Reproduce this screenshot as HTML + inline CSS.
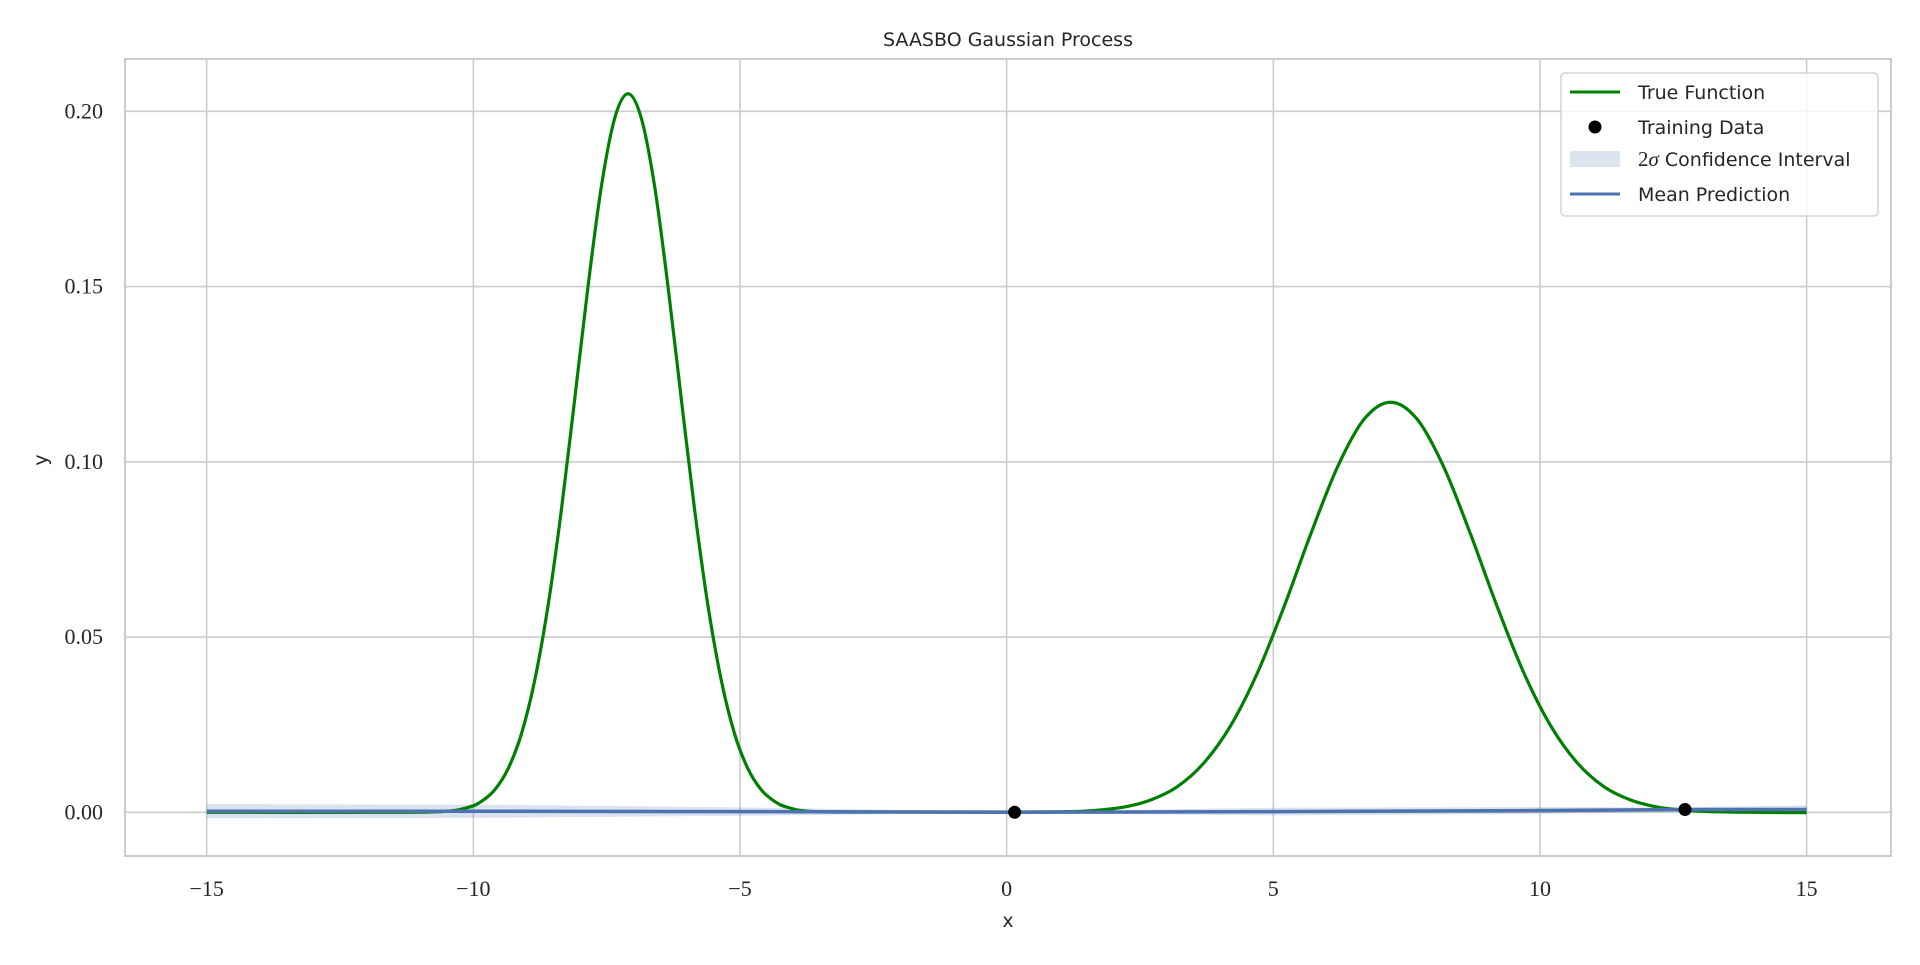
<!DOCTYPE html>
<html><head><meta charset="utf-8"><style>
body{margin:0;background:#fff;}
svg text{fill:#262626;}
.sans{font-family:"DejaVu Sans","Liberation Sans",sans-serif;}
.serif{font-family:"Liberation Serif",serif;}
</style></head><body>
<svg id="chart" width="1920" height="960" xmlns="http://www.w3.org/2000/svg">
<rect width="1920" height="960" fill="#fff"/>
<g id="grid"></g>
<g id="band"></g>
<g id="lines"></g>
<g id="frame"></g>
<g id="ticks"></g>
<text class="sans" x="1008" y="46" font-size="19" text-anchor="middle">SAASBO Gaussian Process</text>
<text class="sans" x="1008" y="927" font-size="19" text-anchor="middle">x</text>
<text class="sans" x="47" y="460" font-size="19" text-anchor="middle" transform="rotate(-90 47 460)">y</text>
<g>
<rect x="1561" y="73" width="317" height="143" rx="4" fill="#fff" fill-opacity="0.8" stroke="#ccc" stroke-width="1.3"/>
<line x1="1570" y1="92" x2="1620" y2="92" stroke="#008000" stroke-width="3"/>
<text class="sans" x="1638" y="99" font-size="19">True Function</text>
<circle cx="1595" cy="127" r="6.5" fill="#000"/>
<text class="sans" x="1638" y="134" font-size="19">Training Data</text>
<rect x="1570" y="151" width="50" height="16" fill="#dbe3ef"/>
<text class="sans" x="1638" y="166" font-size="19"><tspan class="serif" font-size="21">2<tspan font-style="italic">σ</tspan></tspan> Confidence Interval</text>
<line x1="1570" y1="194" x2="1620" y2="194" stroke="#4c72b0" stroke-width="3"/>
<text class="sans" x="1638" y="201" font-size="19">Mean Prediction</text>
</g>
</svg>
<script>
const xTicks=[-15,-10,-5,0,5,10,15];
const xTickLabels=["\u221215","\u221210","\u22125","0","5","10","15"];
const yTicks=[0,0.05,0.10,0.15,0.20];
const yTickLabels=["0.00","0.05","0.10","0.15","0.20"];
const trueX=[-15,-12,-10.6,-10.1,-9.85,-9.6,-9.35,-9.1,-8.85,-8.6,-8.35,-8.1,-7.85,-7.6,-7.35,-7.1,-6.85,-6.6,-6.35,-6.1,-5.85,-5.6,-5.35,-5.1,-4.85,-4.6,-4.35,-4.1,-3.6,-2,0,1.2,1.7,2.2,2.7,3.2,3.7,4.2,4.7,5.2,5.7,6.2,6.7,7.2,7.7,8.2,8.7,9.2,9.7,10.2,10.7,11.2,11.7,12.2,12.7,13.2,14,15];
const trueY=[0,0,0.0002,0.0014,0.0031,0.0064,0.0124,0.0223,0.0376,0.0589,0.0862,0.1178,0.150,0.1785,0.198,0.205,0.198,0.1785,0.150,0.1178,0.0862,0.0589,0.0376,0.0223,0.0124,0.0064,0.0031,0.0014,0.0002,0.0001,0.0001,0.0002,0.0006,0.0015,0.0035,0.0073,0.0141,0.0247,0.0397,0.0586,0.0793,0.0984,0.1121,0.117,0.1121,0.0984,0.0793,0.0586,0.0397,0.0247,0.0141,0.0073,0.0035,0.0015,0.0006,0.0002,0,-0.0001];
const predX=[-15,-10,-5,0,5,10,12.7,15];
const meanY=[0.0003,0.0003,0.0002,0.0000,0.0002,0.0005,0.0008,0.0008];
const lowerY=[-0.0017,-0.0016,-0.0010,-0.0002,-0.0009,-0.0005,0.0002,-0.0004];
const upperY=[0.0023,0.0022,0.0014,0.0002,0.0013,0.0015,0.0014,0.0020];
const trainX=[0.15,12.72];
const trainY=[0.0,0.0008];

const X0=206.7,PXU=53.33,Y0=812.3,PYU=3505;
const sx=v=>X0+(v+15)*PXU;
const sy=v=>Y0-v*PYU;
const NS="http://www.w3.org/2000/svg";
function mk(tag,attrs,parent){const e=document.createElementNS(NS,tag);for(const k in attrs)e.setAttribute(k,attrs[k]);document.getElementById(parent).appendChild(e);return e;}
function smooth(pts){
 let d='M'+pts[0][0]+','+pts[0][1];
 for(let i=0;i<pts.length-1;i++){
  const p0=pts[Math.max(0,i-1)],p1=pts[i],p2=pts[i+1],p3=pts[Math.min(pts.length-1,i+2)];
  const c1=[p1[0]+(p2[0]-p0[0])/6,p1[1]+(p2[1]-p0[1])/6];
  const c2=[p2[0]-(p3[0]-p1[0])/6,p2[1]-(p3[1]-p1[1])/6];
  d+='C'+c1[0]+','+c1[1]+' '+c2[0]+','+c2[1]+' '+p2[0]+','+p2[1];
 }
 return d;
}

xTicks.forEach((t,i)=>{
 const g=mk('line',{x1:sx(t),x2:sx(t),y1:59,y2:856,stroke:'#cccccc','stroke-width':1.6},'grid');
 
 
 const tx=mk('text',{x:sx(t),y:896,'font-size':22,'text-anchor':'middle',class:'serif'},'ticks');
 tx.textContent=xTickLabels[i];
 
 
});
yTicks.forEach((t,i)=>{
 const g=mk('line',{x1:125,x2:1891,y1:sy(t),y2:sy(t),stroke:'#cccccc','stroke-width':1.6},'grid');
 
 
 const tx=mk('text',{x:103,y:sy(t)+7,'font-size':22,'text-anchor':'end',class:'serif'},'ticks');
 tx.textContent=yTickLabels[i];
 
 
});
let bd='M'+predX.map((x,i)=>sx(x)+','+sy(upperY[i])).join('L');
for(let i=predX.length-1;i>=0;i--)bd+='L'+sx(predX[i])+','+sy(lowerY[i]);
const band=mk('path',{d:bd+'Z',fill:'#4c72b0','fill-opacity':0.2},'band');


const tl=mk('path',{d:smooth(trueX.map((x,i)=>[sx(x),sy(trueY[i])])),fill:'none',stroke:'#008000','stroke-width':3.2,'stroke-linejoin':'round'},'lines');


const ml=mk('polyline',{points:predX.map((x,i)=>sx(x)+','+sy(meanY[i])).join(' '),fill:'none',stroke:'#4c72b0','stroke-width':3.5},'lines');


trainX.forEach((x,i)=>{
 const c=mk('circle',{cx:sx(x),cy:sy(trainY[i]),r:6.5,fill:'#000'},'lines');
 
 
});
const fr=mk('rect',{x:125,y:59,width:1766,height:797,fill:'none',stroke:'#cccccc','stroke-width':2},'frame');


</script>
</body></html>
